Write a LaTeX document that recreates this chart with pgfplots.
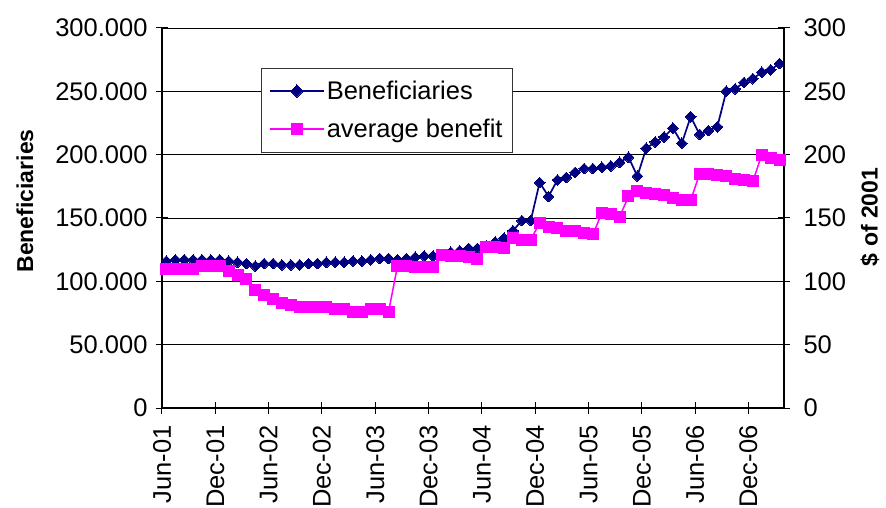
\documentclass[border=0pt]{standalone}
\usepackage{pgfplots}
\usepackage{pgfplotstable}
\pgfplotsset{compat=1.18}
\usepackage{fontspec}
\setmainfont{Liberation Sans}
\definecolor{navyb}{RGB}{0,0,128}
\definecolor{mag}{RGB}{255,0,255}
\pgfplotstableread{
x ben avg
0.5 116000 110
1.5 117000 110
2.5 117000 110
3.5 117000 110
4.5 117000 112
5.5 117000 112
6.5 117000 112
7.5 116000 108
8.5 115000 105
9.5 114000 102
10.5 112000 93
11.5 114000 89
12.5 114000 86
13.5 113000 83
14.5 113000 81
15.5 113000 80
16.5 114000 80
17.5 114000 80
18.5 115000 80
19.5 115000 78
20.5 115000 78
21.5 116000 76
22.5 116000 76
23.5 117000 78
24.5 118000 78
25.5 118000 76
26.5 117000 112
27.5 118000 112
28.5 119000 111
29.5 120000 111
30.5 120000 111
31.5 121000 121
32.5 123000 120
33.5 124000 120
34.5 126000 119
35.5 126000 118
36.5 128000 127
37.5 131000 127
38.5 134000 126
39.5 140000 134
40.5 148000 133
41.5 148000 133
42.5 178000 146
43.5 167000 143
44.5 180000 142
45.5 182000 140
46.5 186000 140
47.5 189000 138
48.5 189000 137
49.5 190000 154
50.5 191000 153
51.5 194000 151
52.5 198000 167
53.5 183000 171
54.5 205000 170
55.5 210000 169
56.5 214000 168
57.5 221000 166
58.5 209000 164
59.5 230000 164
60.5 216000 185
61.5 219000 185
62.5 222000 184
63.5 250000 183
64.5 252000 181
65.5 257000 180
66.5 260000 179
67.5 265000 200
68.5 267000 197
69.5 272000 196
}\data
\begin{document}
\begin{tikzpicture}
\pgfplotsset{
  myaxis/.style={
    scale only axis, width=622bp, height=380bp,
    xmin=0, xmax=70,
    tick align=center, major tick length=12bp,
    tick style={black, line width=1bp},
    axis line style={black, line width=1.3bp},
    tick label style={font=\fontsize{25.5bp}{30bp}\selectfont},
    label style={font=\bfseries\fontsize{23bp}{27bp}\selectfont},
  }
}
\begin{axis}[myaxis,
  ymin=0, ymax=300000,
  axis y line*=left, axis x line*=bottom,
  scaled y ticks=false,
  xtick={0,6,...,66},
  xticklabels={Jun-01,Dec-01,Jun-02,Dec-02,Jun-03,Dec-03,Jun-04,Dec-04,Jun-05,Dec-05,Jun-06,Dec-06},
  x tick label style={yshift=-8bp, rotate=90, anchor=east},
  ytick={0,50000,100000,150000,200000,250000,300000},
  yticklabels={0,50.000,100.000,150.000,200.000,250.000,300.000},
  y tick label style={xshift=-5bp},
  ymajorgrids, major grid style={black, line width=0.8bp},
  ylabel={Beneficiaries},
  ylabel style={at={(axis description cs:-0.2203,0.545)}, anchor=center},
]
\addplot[navyb, line width=1.7bp, mark=square*, mark size=3.8bp,
  mark options={rotate=45, line width=0bp, fill=navyb, draw=navyb}]
  table[x=x, y=ben]{\data};
\end{axis}
\begin{axis}[myaxis,
  ymin=0, ymax=300,
  axis x line=none, axis y line*=right,
  ytick={0,50,100,150,200,250,300},
  yticklabels={0,50,100,150,200,250,300},
  y tick label style={xshift=10bp},
  ylabel={\$ of 2001},
  ylabel style={at={(axis description cs:1.138,0.503)}, anchor=center, rotate=0},
  legend style={at={(axis description cs:0.159,0.895)}, anchor=north west,
    draw=black!80, fill=white, font=\fontsize{25.5bp}{30bp}\selectfont,
    inner xsep=8bp, inner ysep=11bp, row sep=14bp, cells={anchor=west}},
  legend image code/.code={\draw[mark repeat=2,mark phase=2,#1] plot coordinates {(0bp,0bp) (27bp,0bp) (54bp,0bp)};},
]
\addlegendimage{navyb, line width=1.7bp, mark=square*, mark size=4.4bp,
  mark options={rotate=45, line width=0bp, fill=navyb, draw=navyb}}
\addlegendentry{Beneficiaries}
\addplot[mag, line width=1.5bp, mark=square*, mark size=5.5bp,
  mark options={line width=0bp, fill=mag, draw=mag}]
  table[x=x, y=avg]{\data};
\addlegendentry{average benefit}
\end{axis}
\pgfresetboundingbox
\path[use as bounding box] (-162bp,-100bp) rectangle (724bp,408bp);
\end{tikzpicture}
\end{document}
